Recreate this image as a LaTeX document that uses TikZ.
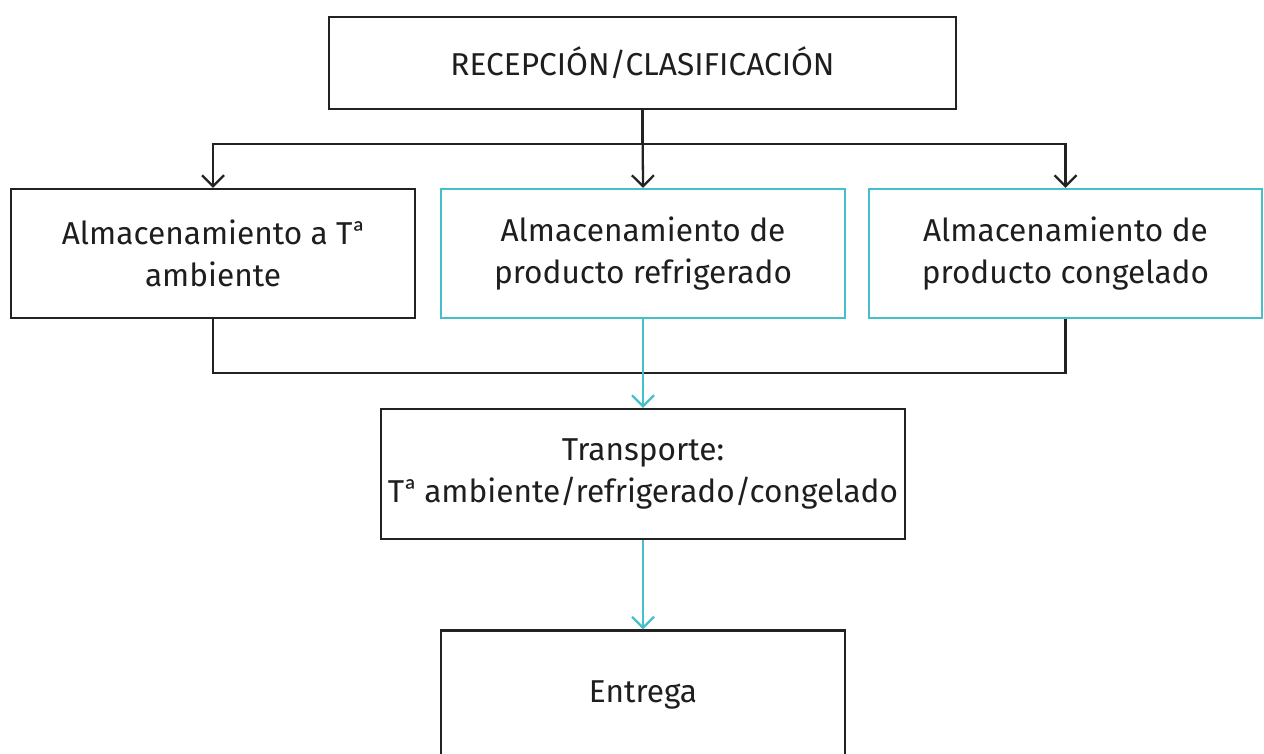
\documentclass[tikz,border=0pt]{standalone}
\usepackage{fontspec}
\setmainfont{Fira Sans}
\newfontfamily\ordfont{Lato}
\newcommand{\Tord}{T{\ordfont ª}}
\usetikzlibrary{arrows.meta,positioning}
\definecolor{boxline}{HTML}{222222}
\definecolor{txt}{HTML}{1E1E1E}
\definecolor{cyanline}{HTML}{45BFC9}

\begin{document}
\begin{tikzpicture}[node distance=4.41cm]
        \tikzstyle{blackbox} = [rectangle, minimum width=8.08cm, minimum height=2.58cm, text centered, align=center, draw=boxline, line width=1.3pt, text=txt, font=\fontsize{18}{24}\selectfont]
        \tikzstyle{tealbox} = [blackbox, draw=cyanline]
        \tikzstyle{arrow} = [line width=1.3pt, draw=boxline, -{Straight Barb[length=2.2mm,width=4.4mm]}]
        \tikzstyle{tealarrow} = [arrow, draw=cyanline]
        \useasboundingbox (0,0) rectangle (25.28,-15.06);

        \node (recep) [blackbox, minimum width=12.54cm, minimum height=1.84cm] at (12.85,-1.26) {RECEPCIÓN/CLASIFICACIÓN};
        \node (refri) [tealbox] at (12.86,-5.07) {Almacenamiento de\\producto refrigerado};
        \node (amb) [blackbox] at (4.26,-5.07) {Almacenamiento a \Tord\\ambiente};
        \node (congel) [tealbox, minimum width=7.86cm] at (21.31,-5.07) {Almacenamiento de\\producto congelado};
        \node (transp) [blackbox, below of=refri, minimum width=10.48cm, minimum height=2.6cm] {Transporte:\\\Tord{} ambiente/refrigerado/congelado};
        \node (entrega) [blackbox, below of=transp, minimum height=2.56cm] {Entrega};

        \draw [arrow] (recep.south) -- ++(0,-0.68) -| (amb.north);
        \draw [arrow] (recep.south) -- ++(0,-0.68) -| (congel.north);
        \draw [arrow] (recep.south) -- (refri.north);
        \draw [line width=1.3pt, draw=boxline] (amb.south) -- ++(0,-1.08) -| (congel.south);
        \draw [tealarrow] (refri.south) -- (transp.north);
        \draw [tealarrow] (transp.south) -- (entrega.north);
\end{tikzpicture}
\end{document}
